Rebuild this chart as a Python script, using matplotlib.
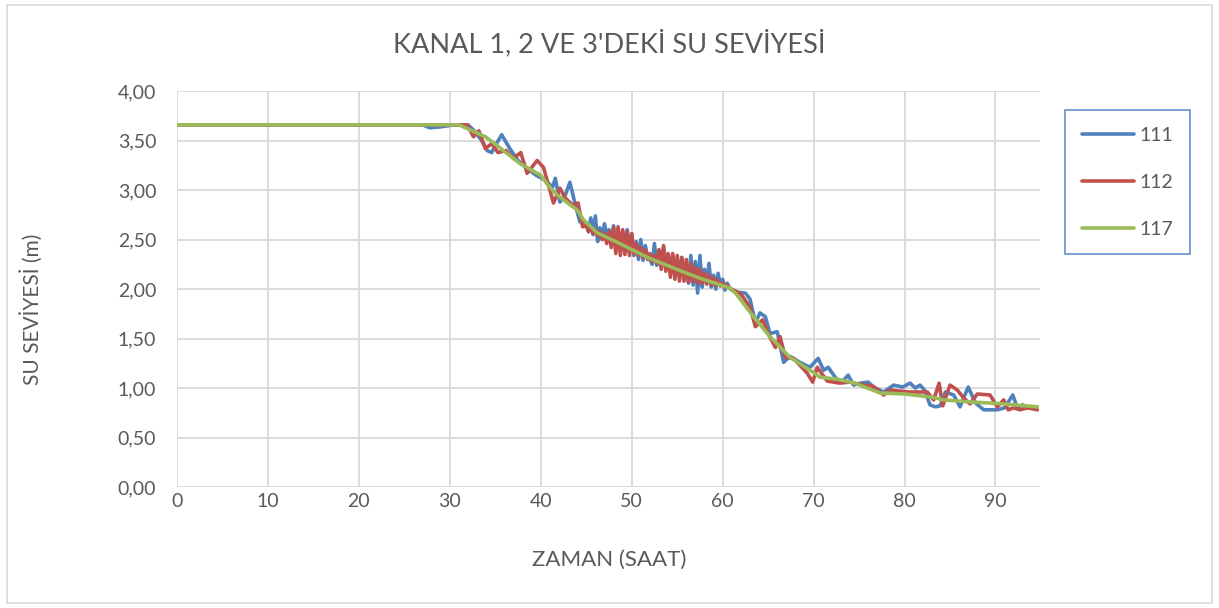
import matplotlib
matplotlib.use("Agg")
import matplotlib.pyplot as plt
from matplotlib.patches import Rectangle

plt.rcParams['font.family'] = ['Lato', 'DejaVu Sans']

# ---- data (saat, su seviyesi m) ----
x_mid = [45, 45.25, 45.5, 45.75, 46, 46.25, 46.5, 46.75, 47, 47.25,
         47.5, 47.75, 48, 48.25, 48.5, 48.75, 49, 49.25, 49.5, 49.75,
         50, 50.25, 50.5, 50.75, 51, 51.25, 51.5, 51.75, 52, 52.25,
         52.5, 52.75, 53, 53.25, 53.5, 53.75, 54, 54.25, 54.5, 54.75,
         55, 55.25, 55.5, 55.75, 56, 56.25, 56.5, 56.75, 57, 57.25,
         57.5, 57.75, 58, 58.25, 58.5, 58.75, 59, 59.25, 59.5, 59.75,
         60, 60.25, 60.5, 60.75, 61]

x_111 = ([0, 27, 27.8, 29, 30.5, 32.0, 32.8, 33.5, 34.1, 34.6,
          35.0, 35.7, 36.6, 37.5, 38.5, 39.5, 40.5, 41.3, 41.6, 42.1,
          42.7, 43.2, 43.8, 44.3]
         + x_mid
         + [61.5, 62.5, 63.0, 63.6, 64.1, 64.7, 65.2, 66.0, 66.7, 67.4,
            68.5, 69.6, 70.5, 71.1, 71.6, 72.6, 73.2, 73.8, 74.4, 75.2,
            76.0, 76.6, 77.7, 78.8, 79.8, 80.6, 81.2, 81.7, 82.2, 82.8,
            83.4, 83.9, 84.5, 85.4, 86.1, 87.0, 87.8, 88.7, 89.5, 90.2,
            91.0, 91.9, 92.4, 93.0, 93.6, 94.2, 94.6])
y_111 = ([3.66, 3.66, 3.63, 3.64, 3.66, 3.66, 3.59, 3.50, 3.40, 3.38,
          3.45, 3.56, 3.42, 3.30, 3.22, 3.15, 3.10, 3.03, 3.12, 2.88,
          2.95, 3.08, 2.85, 2.68]
         + [2.66, 2.58, 2.72, 2.55, 2.74, 2.48, 2.62, 2.52, 2.66, 2.55,
            2.60, 2.46, 2.64, 2.44, 2.50, 2.40, 2.58, 2.44, 2.60, 2.38,
            2.56, 2.34, 2.48, 2.30, 2.50, 2.29, 2.44, 2.32, 2.30, 2.25,
            2.46, 2.24, 2.36, 2.22, 2.42, 2.24, 2.30, 2.18, 2.34, 2.16,
            2.28, 2.12, 2.32, 2.10, 2.22, 2.06, 2.34, 2.04, 2.28, 1.96,
            2.34, 2.02, 2.20, 2.06, 2.26, 2.02, 2.14, 2.00, 2.16, 2.04,
            2.10, 1.99, 2.06, 2.01, 1.99]
         + [1.97, 1.96, 1.90, 1.66, 1.76, 1.72, 1.55, 1.57, 1.26, 1.32,
            1.26, 1.21, 1.30, 1.18, 1.21, 1.08, 1.07, 1.13, 1.03, 1.05,
            1.06, 1.01, 0.96, 1.03, 1.01, 1.05, 1.00, 1.03, 0.98, 0.83,
            0.81, 0.82, 0.96, 0.93, 0.81, 1.01, 0.85, 0.78, 0.78, 0.78,
            0.80, 0.93, 0.80, 0.83, 0.80, 0.80, 0.81])

x_112 = ([0, 31, 31.9, 32.6, 33.2, 33.9, 34.6, 35.3, 36.2, 37.0,
          37.8, 38.5, 39.6, 40.3, 41.4, 42.1, 42.7, 43.5, 44.1, 44.6]
         + x_mid
         + [62.0, 63.0, 63.6, 64.4, 65.0, 65.8, 66.3, 66.9, 67.8, 68.6,
            69.3, 69.9, 70.4, 71.5, 72.9, 74.0, 75.5, 76.5, 77.7, 78.4,
            79.5, 80.5, 81.5, 82.5, 83.2, 83.8, 84.2, 85.0, 85.8, 86.5,
            87.2, 88.0, 89.4, 90.2, 90.9, 91.4, 92.0, 92.7, 93.5, 94.6])
y_112 = ([3.66, 3.66, 3.66, 3.54, 3.60, 3.42, 3.47, 3.38, 3.40, 3.32,
          3.38, 3.17, 3.30, 3.23, 2.87, 3.02, 2.92, 2.85, 2.87, 2.63]
         + [2.64, 2.58, 2.62, 2.56, 2.60, 2.54, 2.58, 2.50, 2.56, 2.46,
            2.58, 2.42, 2.62, 2.36, 2.63, 2.34, 2.60, 2.35, 2.58, 2.34,
            2.56, 2.36, 2.46, 2.34, 2.42, 2.32, 2.40, 2.30, 2.36, 2.28,
            2.34, 2.26, 2.40, 2.20, 2.44, 2.18, 2.36, 2.12, 2.36, 2.10,
            2.34, 2.08, 2.32, 2.08, 2.30, 2.07, 2.26, 2.08, 2.22, 2.06,
            2.20, 2.06, 2.16, 2.05, 2.14, 2.04, 2.11, 2.04, 2.09, 2.03,
            2.06, 2.02, 2.04, 2.01, 2.00]
         + [1.95, 1.82, 1.62, 1.69, 1.55, 1.41, 1.52, 1.31, 1.30, 1.22,
            1.15, 1.06, 1.21, 1.07, 1.05, 1.06, 1.03, 1.02, 0.93, 0.98,
            0.97, 0.96, 0.96, 0.96, 0.88, 1.05, 0.82, 1.03, 0.98, 0.90,
            0.84, 0.94, 0.93, 0.81, 0.88, 0.78, 0.80, 0.78, 0.80, 0.78])

x_117 = [0, 31, 33.9, 35.2, 37.7, 40, 40.8, 41.8, 44, 44.7,
         46.2, 48.7, 50.2, 52, 53.9, 55.5, 57.5, 59.5, 60.8, 61.5,
         63.4, 65.2, 67.4, 69.6, 70.7, 72.6, 74.5, 76.2, 77.3, 80,
         82.8, 83.4, 84.3, 87.2, 90.9, 94.6]
y_117 = [3.66, 3.66, 3.54, 3.45, 3.27, 3.15, 3.05, 2.95, 2.80, 2.70,
         2.57, 2.46, 2.39, 2.31, 2.24, 2.18, 2.11, 2.05, 2.01, 1.95,
         1.72, 1.52, 1.31, 1.18, 1.11, 1.09, 1.05, 0.99, 0.95, 0.94,
         0.91, 0.90, 0.88, 0.86, 0.84, 0.81]

series = [("111", x_111, y_111, "#4F81BD"),
          ("112", x_112, y_112, "#C0504D"),
          ("117", x_117, y_117, "#9BBB59")]

yticks = [0, 0.5, 1.0, 1.5, 2.0, 2.5, 3.0, 3.5, 4.0]
xticks = [0, 10, 20, 30, 40, 50, 60, 70, 80, 90]

txt = "#595959"
grid_c = "#D9D9D9"

fig = plt.figure(figsize=(12.19, 6.08), dpi=100)
fig.patches.append(Rectangle((0.006, 0.008), 0.988, 0.984, transform=fig.transFigure,
                             fill=False, edgecolor=grid_c, linewidth=1.2))
ax = fig.add_axes([0.1452, 0.199, 0.708, 0.651])

for name, xs, ys, c in series:
    ax.plot(xs, ys, color=c, linewidth=2.6, label=name,
            solid_joinstyle='round', solid_capstyle='round')

ax.set_xlim(0, 94.9)
ax.set_ylim(0, 4)
ax.set_xticks(xticks)
ax.set_yticks(yticks)
ax.set_yticklabels([f"{v:.2f}".replace(".", ",") for v in yticks])
ax.grid(True, color=grid_c, linewidth=1.3)
ax.set_axisbelow(True)
for s in ax.spines.values():
    s.set_visible(False)
ax.tick_params(length=0, labelsize=14, colors=txt)
ax.tick_params(axis='y', pad=15)
ax.tick_params(axis='x', pad=4)

fig.text(0.5, 0.928, "KANAL 1, 2 VE 3'DEKİ SU SEVİYESİ", ha='center', va='center',
         fontsize=19.5, color=txt)
fig.text(0.5, 0.079, "ZAMAN (SAAT)", ha='center', va='center',
         fontsize=16, color=txt)
fig.text(0.026, 0.492, "SU SEVİYESİ (m)", ha='center', va='center',
         rotation=90, fontsize=15, color=txt)

leg = fig.legend(loc='upper left', bbox_to_anchor=(0.8737, 0.819), fontsize=14,
                 frameon=True, fancybox=False, edgecolor="#4472C4",
                 handlelength=2.7, labelspacing=1.55, borderpad=0.85,
                 handletextpad=0.3, borderaxespad=0)
for t in leg.get_texts():
    t.set_color(txt)
leg.get_frame().set_linewidth(1.2)

fig.savefig("out.png", dpi=100)
